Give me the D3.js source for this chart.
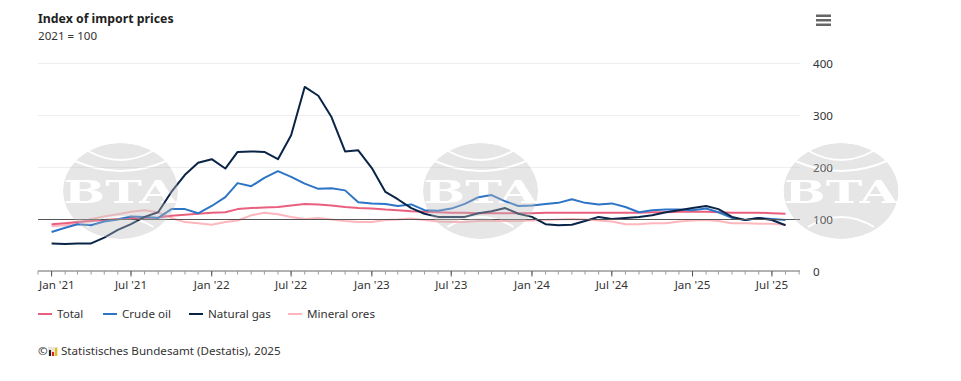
<!DOCTYPE html>
<html>
<head>
<meta charset="utf-8">
<script src="https://cdn.jsdelivr.net/npm/d3@7"></script>
<style>
  html, body { margin: 0; padding: 0; background: #fff; }
  svg { display: block; font-family: "Noto Sans", sans-serif; }
</style>
</head>
<body>
<script>
const WIDTH = 961;
const HEIGHT = 381;

const total = [91, 93, 95, 97, 99, 101, 103, 103, 104, 107, 109, 111, 113, 114, 120, 122, 123, 124, 127, 130, 129, 127, 124, 122, 121, 119, 118, 116, 115, 114, 113, 113, 112, 112, 112, 112, 112, 113, 113, 113, 113, 113, 113, 113, 113, 114, 114, 115, 115, 115, 114, 113, 113, 113, 112, 111];
const crudeOil = [76, 84, 91, 89, 96, 100, 106, 105, 103, 120, 120, 112, 126, 143, 170, 164, 180, 193, 182, 169, 159, 160, 156, 133, 131, 130, 126, 129, 118, 117, 121, 130, 143, 147, 135, 126, 127, 130, 132, 139, 132, 129, 131, 124, 114, 118, 119, 119, 118, 121, 114, 103, 99, 103, 101, 99];
const naturalGas = [54, 53, 54, 54, 65, 80, 91, 105, 114, 153, 186, 209, 216, 198, 230, 231, 230, 216, 262, 355, 338, 297, 231, 233, 199, 153, 139, 122, 111, 105, 105, 105, 112, 116, 122, 111, 105, 91, 89, 90, 97, 105, 101, 103, 105, 108, 114, 118, 122, 126, 120, 105, 99, 103, 99, 89];
const mineralOres = [87, 89, 93, 101, 106, 110, 115, 118, 114, 103, 95, 93, 90, 95, 98, 108, 113, 110, 105, 101, 103, 100, 97, 95, 95, 99, 100, 102, 99, 96, 95, 95, 97, 97, 97, 97, 98, 99, 100, 101, 100, 98, 96, 91, 91, 93, 93, 96, 98, 99, 97, 93, 93, 92, 92, 90];

const seriesNames = ["Total", "Crude oil", "Natural gas", "Mineral ores"];
const seriesColors = ["#e9607f", "#2d74c6", "#0a2448", "#ffb6bd"];
const seriesValues = [total, crudeOil, naturalGas, mineralOres];
const yTicks = [0, 100, 200, 300, 400];

const months = naturalGas.map((d, i) => new Date(2021, i, 1));

const x = d3.scaleTime()
  .domain([new Date(2020, 11, 1), new Date(2025, 8, 3)])
  .range([38, 800]);
const y = d3.scaleLinear().domain([0, 400]).range([271.5, 63.5]);

const SVG = d3.select("body").append("svg")
  .attr("width", WIDTH)
  .attr("height", HEIGHT);

// titulo
SVG.append("text").attr("x", 38).attr("y", 23)
  .attr("font-size", 12.3).attr("font-weight", 700).attr("fill", "#222")
  .text("Index of import prices");
SVG.append("text").attr("x", 38).attr("y", 40)
  .attr("font-size", 11.6).attr("fill", "#333")
  .text("2021 = 100");

// menu
SVG.append("g").selectAll("rect").data([0, 1, 2]).join("rect")
  .attr("x", 816).attr("y", (d) => 14.5 + d * 4.5)
  .attr("width", 15).attr("height", 2.5).attr("fill", "#666");

// rejilla
SVG.append("g").selectAll("line").data(yTicks.filter((d) => d !== 0 && d !== 100)).join("line")
  .attr("x1", 38).attr("x2", 800)
  .attr("y1", (d) => y(d)).attr("y2", (d) => y(d))
  .attr("stroke", "#eeeeee");

// lineas
const linea = d3.line()
  .x((d, i) => x(months[i]))
  .y((d) => y(d));

SVG.append("g").attr("fill", "none").attr("stroke-width", 2).attr("stroke-linejoin", "round")
  .selectAll("path")
  .data([mineralOres, total, crudeOil, naturalGas])
  .join("path")
  .attr("stroke", (d) => seriesColors[seriesValues.indexOf(d)])
  .attr("d", linea);

// linea base en 100
SVG.append("line")
  .attr("x1", 38).attr("x2", 800)
  .attr("y1", y(100)).attr("y2", y(100))
  .attr("stroke", "#555").attr("stroke-width", 1);

// eje y
const ejeY = SVG.append("g")
  .attr("transform", "translate(800,0)")
  .call(d3.axisRight(y).tickValues(yTicks).tickSize(0).tickPadding(13));
ejeY.select(".domain").remove();
ejeY.selectAll("text").attr("font-family", "Noto Sans").attr("font-size", 11.6).attr("fill", "#333");

// eje x
const etiquetasX = d3.timeMonth.range(new Date(2021, 0, 1), new Date(2025, 8, 1), 6);
const ejeX = SVG.append("g").attr("transform", "translate(0,271)");
ejeX.append("line").attr("x1", 38).attr("x2", 800).attr("stroke", "#666");
ejeX.selectAll("line.menor")
  .data(d3.timeMonth.range(new Date(2020, 11, 1), new Date(2025, 8, 2)))
  .join("line")
  .attr("class", "menor")
  .attr("x1", (d) => x(d)).attr("x2", (d) => x(d))
  .attr("y1", 0).attr("y2", 3.5)
  .attr("stroke", "#999");
ejeX.selectAll("line.mayor").data(etiquetasX).join("line")
  .attr("class", "mayor")
  .attr("x1", (d) => x(d)).attr("x2", (d) => x(d))
  .attr("y1", 0).attr("y2", 5.5)
  .attr("stroke", "#555");
ejeX.selectAll("text").data(etiquetasX).join("text")
  .attr("x", (d, i) => (i === 0 ? 39 : x(d)))
  .attr("y", 18)
  .attr("text-anchor", (d, i) => (i === 0 ? "start" : "middle"))
  .attr("font-size", 11.6).attr("fill", "#333")
  .text((d) => d3.timeFormat("%b '%y")(d));

// leyenda
const leyendaX = [38, 103, 189, 288];
const leyenda = SVG.append("g").selectAll("g").data(seriesNames).join("g")
  .attr("transform", (d, i) => `translate(${leyendaX[i]},314)`);
leyenda.append("line").attr("x2", 14)
  .attr("stroke", (d, i) => seriesColors[i]).attr("stroke-width", 2);
leyenda.append("text").attr("x", 19).attr("y", 4)
  .attr("font-size", 11.6).attr("fill", "#333")
  .text((d) => d);

// fuente
SVG.append("text").attr("x", 38).attr("y", 355)
  .attr("font-size", 11.6).attr("fill", "#333")
  .text("©");
const icono = SVG.append("g").attr("transform", "translate(48,347)");
icono.append("rect").attr("width", 10).attr("height", 9).attr("fill", "#e8e4dc");
icono.append("rect").attr("x", 1).attr("y", 3).attr("width", 2).attr("height", 6).attr("fill", "#222");
icono.append("rect").attr("x", 4).attr("y", 5).attr("width", 2).attr("height", 4).attr("fill", "#d22");
icono.append("rect").attr("x", 7).attr("y", 1).attr("width", 2).attr("height", 8).attr("fill", "#eb0");
SVG.append("text").attr("x", 61).attr("y", 355)
  .attr("font-size", 11.6).attr("fill", "#333")
  .text("Statistisches Bundesamt (Destatis), 2025");

// marca de agua
const mascara = SVG.append("defs").append("mask")
  .attr("id", "logo")
  .attr("maskUnits", "userSpaceOnUse")
  .attr("x", -60).attr("y", -50).attr("width", 120).attr("height", 100);
mascara.append("ellipse").attr("rx", 57.5).attr("ry", 48).attr("fill", "#fff");
const arcos = ["M-34,-41Q0,-21 34,-41", "M-48,-31Q0,-9 48,-31", "M-33,36Q0,16 33,36"];
mascara.selectAll("path").data(arcos).join("path")
  .attr("d", (d) => d)
  .attr("fill", "none").attr("stroke", "#000").attr("stroke-width", 2);
mascara.append("text")
  .attr("text-anchor", "middle").attr("y", 12)
  .attr("textLength", 114).attr("lengthAdjust", "spacingAndGlyphs")
  .attr("font-family", "DejaVu Serif").attr("font-weight", 700).attr("font-size", 31)
  .attr("fill", "#000")
  .text("BTA");

const logosX = [120.5, 480.5, 841];
SVG.append("g").selectAll("g").data(logosX).join("g")
  .attr("transform", (d) => `translate(${d},191)`)
  .append("ellipse")
  .attr("rx", 57.5).attr("ry", 48)
  .attr("fill", "#bebebe").attr("fill-opacity", 0.38)
  .attr("mask", "url(#logo)");
</script>
</body>
</html>
